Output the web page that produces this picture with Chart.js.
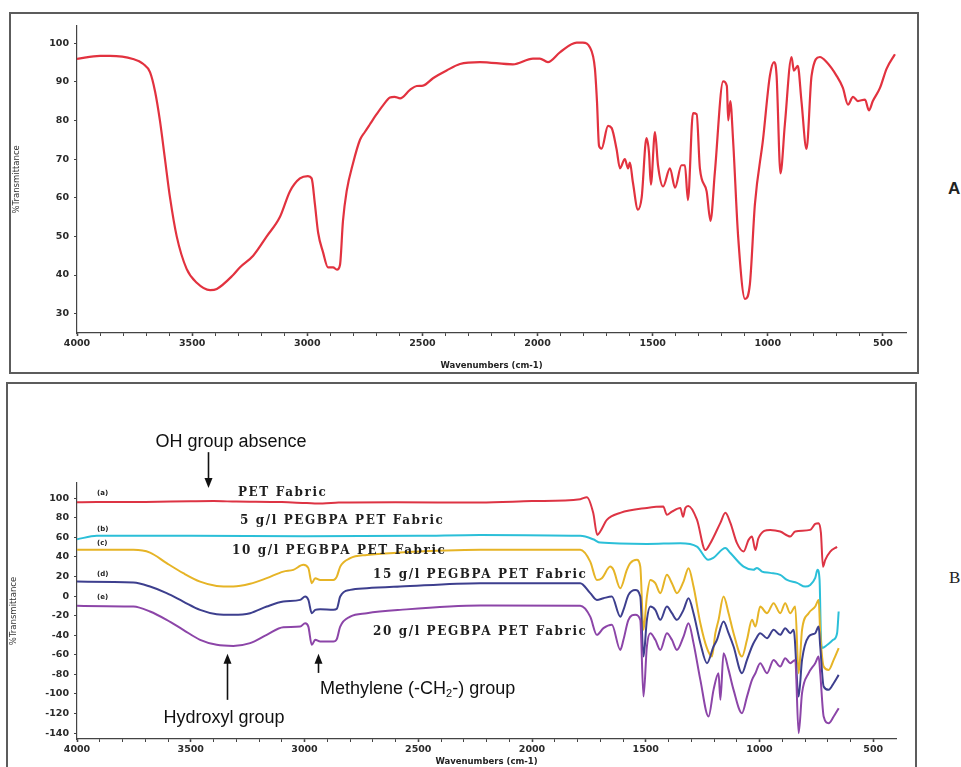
<!DOCTYPE html>
<html>
<head>
<meta charset="utf-8">
<script src="https://cdn.jsdelivr.net/npm/chart.js@4"></script>
<style>
  html, body { margin: 0; padding: 0; background: #fff; width: 961px; height: 767px; overflow: hidden; position: relative; }
  .frame { position: absolute; box-sizing: border-box; border: 2.5px solid #5c5c5c; }
  canvas { position: absolute; }
  .lbl { position: absolute; white-space: nowrap; line-height: 1; }
  .ann { font-family: "Liberation Sans", Arial, sans-serif; font-size: 18px; color: #111; transform: translate(-50%, -50%); }
  .ann-l { font-family: "Liberation Sans", Arial, sans-serif; font-size: 18px; color: #111; transform: translateY(-50%); }
  .ann-l sub { font-size: 11px; vertical-align: -3px; }
  .ser { font-family: "DejaVu Serif", "Liberation Serif", serif; font-weight: bold; font-size: 12px; letter-spacing: 1.6px; color: #1e1e1e; transform: translateY(-50%); }
  .tag { font-family: "DejaVu Sans", sans-serif; font-weight: bold; font-size: 7px; color: #222; transform: translateY(-50%); }
  .panelA { font-family: "Liberation Sans", Arial, sans-serif; font-weight: bold; font-size: 17px; color: #222; transform: translateY(-50%); }
  .panelB { font-family: "Liberation Serif", "Times New Roman", serif; font-size: 17px; color: #222; transform: translateY(-50%); }
</style>
</head>
<body>
<div class="frame" style="left:9px; top:12px; width:910px; height:362px;"></div>
<div class="frame" style="left:6px; top:382px; width:911px; height:420px;"></div>
<canvas id="chartA" width="904" height="356" style="left:12px; top:15px;"></canvas>
<canvas id="chartB" width="905" height="382" style="left:9px; top:385px;"></canvas>

<div class="lbl panelA" style="left:948px; top:188px;">A</div>
<div class="lbl panelB" style="left:949px; top:577px;">B</div>

<div class="lbl ann" style="left:231px; top:441px;">OH group absence</div>
<div class="lbl ser" style="left:238px; top:492px;">PET Fabric</div>
<div class="lbl ser" style="left:240px; top:520px;">5 g/l PEGBPA PET Fabric</div>
<div class="lbl ser" style="left:232px; top:550px;">10 g/l PEGBPA PET Fabric</div>
<div class="lbl ser" style="left:373px; top:574px;">15 g/l PEGBPA PET Fabric</div>
<div class="lbl ser" style="left:373px; top:631px;">20 g/l PEGBPA PET Fabric</div>
<div class="lbl ann" style="left:224px; top:717px;">Hydroxyl group</div>
<div class="lbl ann-l" style="left:320px; top:689px;">Methylene (-CH<sub>2</sub>-) group</div>

<div class="lbl tag" style="left:97px; top:493px;">(a)</div>
<div class="lbl tag" style="left:97px; top:529px;">(b)</div>
<div class="lbl tag" style="left:97px; top:543px;">(c)</div>
<div class="lbl tag" style="left:97px; top:574px;">(d)</div>
<div class="lbl tag" style="left:97px; top:597px;">(e)</div>

<script>
// ---- Spectrum A: reference PEGBPA sample ----
const aWave = [4000,3900,3857,3757,3712,3683,3661,3640,3618,3596,3567,3524,3480,3422,3393,3322,3292,3235,3176,3119,3075,3032,2997,2981,2967,2953,2932,2910,2888,2871,2858,2845,2829,2801,2771,2750,2728,2699,2671,2641,2621,2597,2554,2525,2497,2454,2395,2337,2250,2107,2020,1990,1955,1903,1830,1803,1773,1751,1742,1733,1722,1694,1678,1657,1642,1621,1607,1599,1586,1564,1548,1527,1516,1508,1490,1477,1455,1425,1403,1375,1360,1347,1325,1309,1295,1266,1249,1230,1194,1178,1172,1163,1151,1129,1099,1078,1056,1021,991,973,962,945,926,897,887,870,854,832,810,774,745,702,674,652,630,609,578,561,544,513,484,448];
const aTrans = [95.9,96.7,96.7,95.9,94.6,92.5,87.5,80,70,60,50,41.6,38,36.1,36.4,40,42,45,50,55,61.7,65,65.6,65,58.4,51,46,42,42,41.4,42.6,54,61.7,69,75,77,79,81.6,83.9,85.9,86.1,85.7,87.9,88.9,89,90.9,92.9,94.6,95.1,94.5,96,96,95.1,97.6,100.1,100.1,98.9,93.4,85,73.4,72.7,78.6,78,72.6,67.6,70,67.6,69.1,64,56.9,60,75.4,71.6,63.4,77,68.4,62.9,67.6,62.6,68.4,68.4,59.4,81.9,81.6,67.6,61.7,54,66.6,90.1,88.9,80,85,75,50,33.8,37.6,58.4,75,91.6,95.1,91.6,66.3,79,96.4,92.9,94.1,85,72.6,91.6,96.4,95.1,91.6,88.4,84.1,86.1,85,85.4,82.6,85,88.4,93.4,97.1];

// ---- Spectra B: fabrics (stacked traces) ----
const petWave = [4000,3913,3700,3500,3400,3300,3100,2990,2920,2850,2600,2228,2000,1788,1759,1731,1713,1700,1671,1612,1495,1423,1407,1385,1348,1336,1326,1313,1275,1238,1216,1172,1150,1128,1099,1070,1048,1033,1018,1005,953,909,865,843,777,755,740,730,721,711,689,659];
const petTrans = [95.9,96,96.2,96.8,97,96.5,96,95,94.5,95.5,95.8,95.5,97,99,101,85,62.5,66,77.8,85,90,91.4,83,86.3,90,81,90,92,78,47,54,74.8,85,74.8,54,45.5,57.4,60.8,47,59,67.6,65.9,60.8,66,67.6,73.7,74.5,64.5,30,37,45.5,50.3];

const g5Wave = [4000,3913,3500,3000,2500,2228,1788,1731,1700,1495,1348,1275,1225,1203,1150,1128,1070,1027,1011,989,953,909,879,835,799,777,755,745,736,730,725,703,676,659,652];
const g5Trans = [58,61.5,61.5,61,61.5,62.5,61.5,58,54.6,53.3,54,50.6,37,39,49,44,30,26.8,28.8,25,23.7,21.7,16.5,13.5,9.7,11.4,18.6,26.8,16.5,-41.4,-53,-50,-44.7,-38,-15.8];

const g10Wave = [4000,3752,3679,3606,3533,3459,3386,3313,3239,3166,3093,3049,3005,2983,2968,2953,2931,2873,2858,2843,2799,2726,2580,2228,1788,1744,1715,1693,1656,1642,1612,1583,1568,1539,1524,1510,1495,1480,1458,1436,1407,1385,1363,1334,1312,1290,1260,1231,1209,1194,1180,1158,1136,1114,1077,1055,1033,1018,997,967,938,909,887,865,843,828,813,784,755,740,733,718,696,674,652];
const g10Trans = [47.2,47.2,44.4,33.6,23.4,14.8,10.4,9.7,12.5,18.3,25,26.8,31.9,28.5,13.2,18.3,16.5,16.5,19.9,30.1,38.7,42,44.4,47.2,47.2,35.2,16.5,18.3,30.1,26.8,8,26.8,33.6,37,30,-34.5,-0.5,16.5,13.2,3,21.7,13.2,3,14.8,28.5,9.7,-27.7,-53.2,-61.8,-37.9,-24.3,-0.5,-17.5,-37.9,-61.8,-44.7,-24.3,-31.2,-10.7,-17.5,-7.3,-17.5,-7.3,-17.5,-10.7,-78.8,-34.5,-17.5,-10.7,-3.9,-37.9,-72,-75.4,-65.2,-53.2];

const g15Wave = [4000,3752,3679,3606,3533,3459,3386,3313,3239,3166,3093,3019,2997,2983,2968,2953,2931,2873,2858,2843,2799,2726,2580,2228,1788,1744,1715,1686,1649,1612,1598,1576,1546,1524,1510,1495,1480,1458,1436,1407,1385,1363,1334,1312,1290,1260,1231,1202,1187,1158,1136,1114,1077,1055,1033,1018,997,967,938,909,887,865,850,828,813,784,755,740,733,718,696,674,652];
const g15Trans = [14.8,13.8,9.7,3,-5.6,-14.1,-18.5,-19.2,-17.5,-10.7,-5.6,-3.9,-0.5,-3.9,-17.5,-14.1,-13.4,-14.1,-13,-0.5,6.3,8,9.7,13.2,13.2,3,-3.9,-2.2,-0.5,-21,-14.1,1.2,6.3,-0.5,-61.8,-24.3,-10.7,-14.1,-24.3,-10.7,-17.5,-24.3,-14.1,-2.2,-17.5,-48.1,-68.5,-51.5,-44.7,-26,-37.9,-51.5,-78.8,-65.2,-51.5,-44.7,-37.9,-43,-34.5,-39.6,-32.8,-37.9,-34.5,-102.7,-65.2,-41.4,-37.9,-31.2,-51.5,-92.4,-95.8,-89,-80.5];

const g20Wave = [4000,3752,3679,3606,3533,3459,3386,3313,3239,3166,3093,3019,2997,2983,2968,2953,2931,2873,2858,2843,2799,2726,2580,2228,1788,1744,1715,1686,1649,1612,1598,1576,1546,1524,1510,1495,1480,1458,1436,1407,1385,1363,1334,1312,1290,1260,1224,1202,1180,1172,1158,1136,1114,1077,1055,1033,1018,997,967,938,909,887,865,843,828,813,784,755,740,733,718,696,674,652];
const g20Trans = [-10,-10.7,-15.8,-24.3,-34.5,-44.7,-49.8,-50.9,-48.1,-39.6,-31.8,-31.2,-27.7,-31.2,-49.8,-44.7,-46.5,-46.5,-44,-31.2,-21,-17.5,-14.1,-9.7,-10,-21,-39.6,-32.8,-29.4,-55,-44.7,-24.3,-19.2,-24.3,-102.7,-51.5,-37.9,-44.7,-55,-37.9,-44.7,-55,-41.4,-27.7,-48.1,-85.6,-123,-95.8,-78.8,-106,-58.3,-75.4,-95.8,-119.6,-102.7,-85.6,-78.8,-68.5,-78.8,-65.2,-72,-63.4,-68.5,-65.2,-140,-99.2,-78.8,-68.5,-61.8,-78.8,-123,-129.8,-123,-114.5];

// ---- Axis ticks ----
const xLabels = [4000, 3500, 3000, 2500, 2000, 1500, 1000, 500];
const yTicksA = [30, 40, 50, 60, 70, 80, 90, 100];
const yTicksB = [-140, -120, -100, -80, -60, -40, -20, 0, 20, 40, 60, 80, 100];

// Annotation arrows in panel B (wavenumber, tail value, head value)
const arrowMarks = [
  { wave: 3424, from: 147, to: 110.5 },
  { wave: 3340, from: -106, to: -59 },
  { wave: 2940, from: -78.5, to: -59 }
];

const pts = (w, t) => w.map((v, i) => ({ x: v, y: t[i] }));
const tickFont = { family: 'DejaVu Sans', size: 9.5, weight: 'bold' };

function xScale(min, height) {
  return {
    type: 'linear', reverse: true, min: min, max: 4000, bounds: 'data',
    afterBuildTicks: s => {
      const t = [];
      for (let v = 4000; v >= 500; v -= 100) t.push({ value: v });
      s.ticks = t;
    },
    ticks: {
      autoSkip: false, maxRotation: 0, minRotation: 0, padding: 2, color: '#2a2a2a',
      font: tickFont,
      callback: v => xLabels.includes(v) ? String(v) : ''
    },
    grid: { drawOnChartArea: false, drawTicks: true, tickLength: 3, color: '#444',
            tickWidth: c => (c.tick && xLabels.includes(c.tick.value)) ? 1.6 : 1 },
    border: { display: true, color: '#444', width: 1.2, dash: [1, 2] },
    title: { display: true, text: 'Wavenumbers (cm-1)', color: '#222',
             font: { family: 'DejaVu Sans', size: 8.5, weight: 'bold' }, padding: { top: 3, bottom: 0 } },
    afterFit: s => { s.height = height; }
  };
}

function yScale(min, max, tickList, width) {
  return {
    type: 'linear', min: min, max: max, bounds: 'data',
    afterBuildTicks: s => { s.ticks = tickList.map(v => ({ value: v })); },
    ticks: { autoSkip: false, padding: 5, color: '#2a2a2a', font: tickFont },
    grid: { drawOnChartArea: false, drawTicks: true, tickLength: 3, color: '#444' },
    border: { display: true, color: '#444', width: 1.2, dash: [1, 2] },
    title: { display: true, text: '%Transmittance', color: '#333',
             font: { family: 'DejaVu Sans', size: 8.5 }, padding: { top: 0, bottom: 0 } },
    afterFit: s => { s.width = width; }
  };
}

const lineDefaults = { pointRadius: 0, borderWidth: 2, cubicInterpolationMode: 'monotone', fill: false };
const common = {
  responsive: false, animation: false, devicePixelRatio: 1,
  plugins: { legend: { display: false }, tooltip: { enabled: false } }
};

new Chart(document.getElementById('chartA'), {
  type: 'line',
  data: { datasets: [ { ...lineDefaults, data: pts(aWave, aTrans), borderColor: '#e2323f', borderWidth: 2.2 } ] },
  options: {
    ...common,
    layout: { padding: { left: 0, top: 0, right: 10, bottom: 0 } },
    scales: { x: xScale(400, 38), y: yScale(25, 104.5, yTicksA, 65) }
  }
});

const arrowPlugin = {
  id: 'arrowMarks',
  afterDatasetsDraw(chart) {
    const { ctx, scales: { x, y } } = chart;
    ctx.save();
    ctx.strokeStyle = '#111';
    ctx.fillStyle = '#111';
    ctx.lineWidth = 1.6;
    arrowMarks.forEach(a => {
      const px = Math.round(x.getPixelForValue(a.wave)) + 0.5;
      const y0 = y.getPixelForValue(a.from);
      const y1 = y.getPixelForValue(a.to);
      const dir = Math.sign(y1 - y0);
      ctx.beginPath();
      ctx.moveTo(px, y0);
      ctx.lineTo(px, y1 - dir * 8);
      ctx.stroke();
      ctx.beginPath();
      ctx.moveTo(px, y1);
      ctx.lineTo(px - 4, y1 - dir * 10);
      ctx.lineTo(px + 4, y1 - dir * 10);
      ctx.closePath();
      ctx.fill();
    });
    ctx.restore();
  }
};

new Chart(document.getElementById('chartB'), {
  type: 'line',
  data: {
    datasets: [
      { ...lineDefaults, label: '20 g/l PEGBPA PET Fabric', data: pts(g20Wave, g20Trans), borderColor: '#8c45a8' },
      { ...lineDefaults, label: '15 g/l PEGBPA PET Fabric', data: pts(g15Wave, g15Trans), borderColor: '#3d3f8e' },
      { ...lineDefaults, label: '10 g/l PEGBPA PET Fabric', data: pts(g10Wave, g10Trans), borderColor: '#e6b426' },
      { ...lineDefaults, label: '5 g/l PEGBPA PET Fabric', data: pts(g5Wave, g5Trans), borderColor: '#2bbfd8' },
      { ...lineDefaults, label: 'PET Fabric', data: pts(petWave, petTrans), borderColor: '#dd3444' }
    ]
  },
  options: {
    ...common,
    layout: { padding: { left: 0, top: 98, right: 18, bottom: 0 } },
    scales: { x: xScale(400, 28), y: yScale(-146, 115.5, yTicksB, 68) }
  },
  plugins: [arrowPlugin]
});
</script>
</body>
</html>
